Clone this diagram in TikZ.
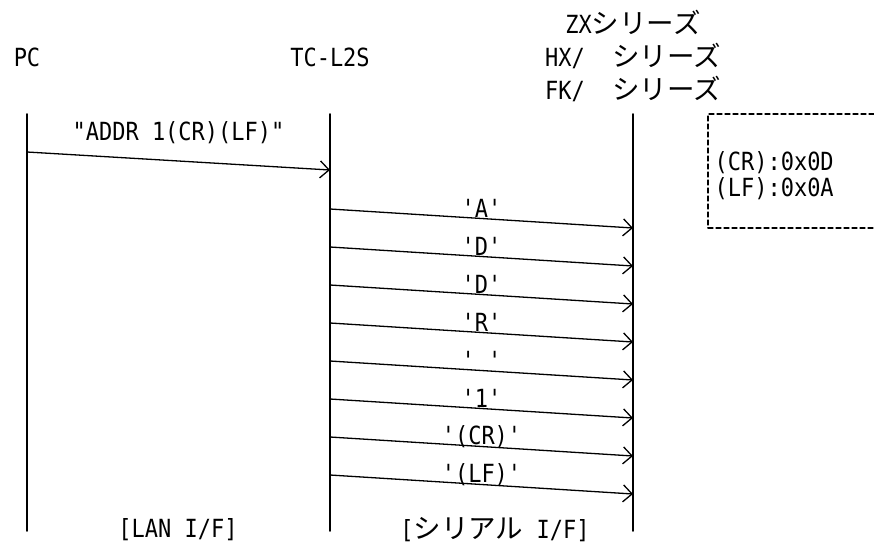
\documentclass[tikz,border=0pt]{standalone}
\usepackage{fontspec}
\setmonofont{DejaVu Sans Mono}[FakeStretch=0.88]
\newfontfamily\jp{Noto Sans CJK JP}[Scale=1.1]
\usetikzlibrary{arrows.meta}

\begin{document}
\begin{tikzpicture}[
    x=1pt,
    y=-1pt,
    line cap=round,
    line join=round,
    font=\ttfamily\fontsize{25}{33}\selectfont,
    life/.style={line width=1.6pt},
    msg/.style={line width=1.3pt, -{Straight Barb[length=9pt,width=17pt]}},
    lbl/.style={inner sep=0pt}
]

\useasboundingbox (0,0) rectangle (874,549);

% Kopfzeilen
\node (pc) at (27,57) {PC};
\node (tc) at (330,57) {TC-L2S};
\node[align=center] (zx) at (633,56)
    {ZX{\jp シリーズ}\\HX/{\jp　シリーズ}\\FK/{\jp　シリーズ}};

% Lebenslinien
\coordinate (pcT) at (27,114);
\coordinate (pcB) at (27,531);
\coordinate (tcT) at (330,114);
\coordinate (tcB) at (330,531);
\coordinate (zxT) at (633,114);
\coordinate (zxB) at (633,531);

\draw[life] (pcT) -- (pcB);
\draw[life] (tcT) -- (tcB);
\draw[life] (zxT) -- (zxB);

% LAN
\coordinate (m0s) at (27,152);
\coordinate (m0e) at (330,170);
\draw[msg] (m0s) -- node[lbl, midway, yshift=28pt] {"ADDR 1(CR)(LF)"} (m0e);

% seriell
\foreach \txt [count=\i from 0] in {'A','D','D','R',' ','1','(CR)','(LF)'} {
    \coordinate (s\i) at (330,{209+38*\i});
    \coordinate (e\i) at (633,{228+38*\i});
    \draw[msg] (s\i) -- node[lbl, midway, yshift=10pt] {\txt} (e\i);
}

% Hinweis
\draw[line width=1.2pt, dash pattern=on 5pt off 3pt]
    (874,114) -- (708,114) -- (708,228) -- (874,228);
\node[anchor=west] (cr) at (711,163) {(CR):0x0D};
\node[anchor=west] (lf) at (711,189) {(LF):0x0A};

% Schnittstellen
\node (lan) at (178,530) {[LAN I/F]};
\node (ser) at (495,530) {[{\jp シリアル} I/F]};

\end{tikzpicture}
\end{document}
